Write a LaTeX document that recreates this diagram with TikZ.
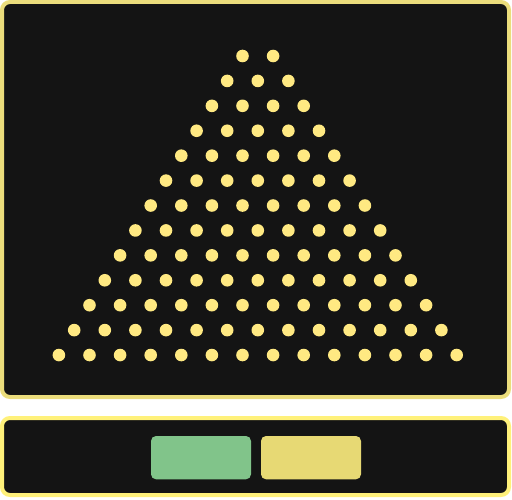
\documentclass[tikz,border=0pt]{standalone}
\definecolor{bg}{HTML}{141414}
\definecolor{borderA}{HTML}{EBDD7C}
\definecolor{borderB}{HTML}{FFF17A}
\definecolor{dotc}{HTML}{FFE982}
\definecolor{btngreen}{HTML}{81C48A}
\definecolor{btnyellow}{HTML}{E7D974}
\tikzset{
  panelA/.style={fill=bg,draw=borderA,line width=4pt,rounded corners=8pt},
  panelB/.style={fill=bg,draw=borderB,line width=4pt,rounded corners=8pt},
  peg/.style={circle,fill=dotc,inner sep=0pt,minimum size=12.6pt},
  btn/.style={rounded corners=5pt}
}
\begin{document}
\begin{tikzpicture}[x=1pt,y=-1pt]
\useasboundingbox (0,0) rectangle (512,500);
\path[panelA] (2,2) rectangle (509,397);
\path[panelB] (2,418) rectangle (509,495);
\foreach \r in {0,...,12}{
  \pgfmathsetmacro{\n}{\r+1}
  \foreach \k in {0,...,\n}{
    \pgfmathsetmacro{\xx}{257.8-15.3*(\r+1)+30.6*\k}
    \pgfmathsetmacro{\yy}{56+24.92*\r}
    \node[peg] (p-\r-\k) at (\xx,\yy) {};
  }
}
\fill[btngreen,btn] (151,436) rectangle (251,479.3);
\fill[btnyellow,btn] (261,436) rectangle (361,479.3);
\end{tikzpicture}
\end{document}
